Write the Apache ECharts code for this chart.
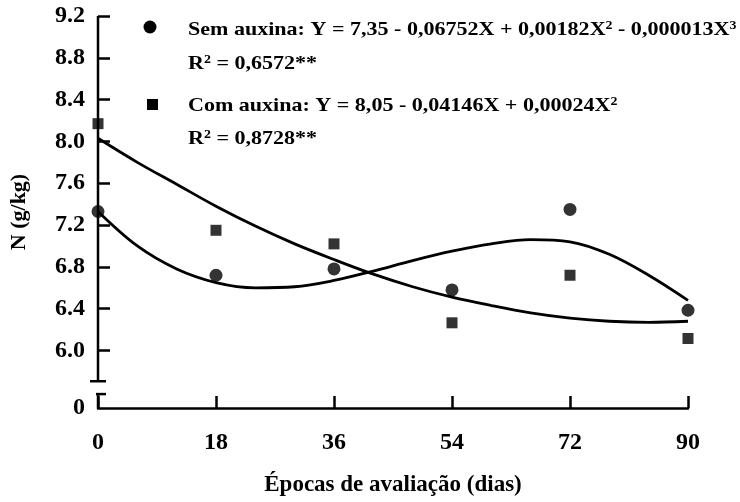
<!DOCTYPE html>
<html>
<head>
<meta charset="utf-8">
<script src="https://cdn.jsdelivr.net/npm/echarts@6/dist/echarts.min.js"></script>
<style>
  html, body { margin: 0; padding: 0; background: #fff; }
  #chart { width: 740px; height: 502px; }
</style>
</head>
<body>
<div id="chart"></div>
<script>
// ---- data ----
const days = [0, 18, 36, 54, 72, 90];
const semAuxina = [7.33, 6.72, 6.78, 6.58, 7.35, 6.385];
const comAuxina = [8.17, 7.15, 7.02, 6.265, 6.72, 6.115];
const curveDays = [0, 6, 12, 18, 24, 30, 36, 42, 48, 54, 60, 66, 72, 78, 84, 90];
const semFit = [7.33, 7.00, 6.78, 6.65, 6.60, 6.61, 6.67, 6.76, 6.86, 6.95, 7.02, 7.06, 7.04, 6.92, 6.72, 6.48];
const comFit = [8.03, 7.80, 7.59, 7.38, 7.19, 7.02, 6.87, 6.73, 6.61, 6.51, 6.43, 6.36, 6.31, 6.28, 6.27, 6.28];
const yTicks = [6.0, 6.4, 6.8, 7.2, 7.6, 8.0, 8.4, 8.8, 9.2];
const yZero = 5.45;              // position of the broken-axis "0"
const yBreakTop = 5.706, yBreakBottom = 5.583;
const legendLines = [
  'Sem auxina: Y = 7,35 - 0,06752X + 0,00182X{s|2} - 0,000013X{s|3}',
  'R{s|2} = 0,6572**',
  'Com auxina: Y = 8,05 - 0,04146X + 0,00024X{s|2}',
  'R{s|2} = 0,8728**'
];

const FONT = '"Liberation Serif", "Times New Roman", serif';
const chart = echarts.init(document.getElementById('chart'), null, { renderer: 'canvas' });

const pairs = (xs, ys) => xs.map((x, i) => [x, ys[i]]);

const option = {
  backgroundColor: '#fff',
  animation: false,
  grid: { left: 95, right: 52, top: 16, bottom: 90 },
  xAxis: {
    type: 'value', min: 0, max: 90, interval: 18,
    axisLine: { show: true, lineStyle: { color: '#000', width: 2.5 } },
    axisTick: { show: true, inside: true, length: 12, lineStyle: { color: '#000', width: 2.5 } },
    axisLabel: { color: '#000', fontFamily: FONT, fontWeight: 'bold', fontSize: 24, margin: 23 },
    splitLine: { show: false },
    name: 'Épocas de avaliação (dias)', nameLocation: 'middle', nameGap: 66,
    nameTextStyle: { color: '#000', fontFamily: FONT, fontWeight: 'bold', fontSize: 23 }
  },
  yAxis: {
    type: 'value', min: yZero, max: 9.2,
    axisLine: { show: false },
    axisTick: { show: true, inside: true, length: 12, customValues: yTicks,
      lineStyle: { color: '#000', width: 2.5 } },
    axisLabel: { color: '#000', fontFamily: FONT, fontWeight: 'bold', fontSize: 24, margin: 13,
      customValues: [yZero].concat(yTicks),
      formatter: v => (v < 5.9 ? '0' : v.toFixed(1)) },
    splitLine: { show: false },
    name: 'N (g/kg)', nameLocation: 'middle', nameGap: 68,
    nameTextStyle: { color: '#000', fontFamily: FONT, fontWeight: 'bold', fontSize: 22 }
  },
  series: [
    { name: 'Sem auxina ajuste', type: 'line', data: pairs(curveDays, semFit), smooth: 0.35,
      showSymbol: false, lineStyle: { color: '#000', width: 2.8 }, z: 2 },
    { name: 'Com auxina ajuste', type: 'line', data: pairs(curveDays, comFit), smooth: 0.35,
      showSymbol: false, lineStyle: { color: '#000', width: 2.8 }, z: 2 },
    { name: 'Sem auxina', type: 'scatter', data: pairs(days, semAuxina), symbol: 'circle',
      symbolSize: 13, itemStyle: { color: '#000' }, z: 3, clip: false },
    { name: 'Com auxina', type: 'scatter', data: pairs(days, comAuxina), symbol: 'rect',
      symbolSize: 11, itemStyle: { color: '#000' }, z: 3, clip: false }
  ]
};
chart.setOption(option);

// broken y-axis line, positioned through the axis scales
const P = v => chart.convertToPixel({ gridIndex: 0 }, [0, v]);
const pTop = P(9.2), pBrk1 = P(yBreakTop), pBrk2 = P(yBreakBottom), pZero = P(yZero);
const ax = pTop[0];
const lineStyle = { stroke: '#000', lineWidth: 2.5 };
const textStyleBase = { fill: '#000', font: 'bold 19px ' + FONT,
  verticalAlign: 'middle', align: 'left',
  rich: { s: { fontSize: 12, fontFamily: FONT, fontWeight: 'bold', verticalAlign: 'top', padding: [0, 0, 9, 0] } } };
const legendY = [30, 64, 106, 139];

chart.setOption({
  graphic: [
    { type: 'line', shape: { x1: ax, y1: pTop[1], x2: ax, y2: pBrk1[1] }, style: lineStyle, z: 10 },
    { type: 'line', shape: { x1: ax - 8, y1: pBrk1[1], x2: ax + 8, y2: pBrk1[1] }, style: lineStyle, z: 10 },
    { type: 'line', shape: { x1: ax, y1: pBrk2[1], x2: ax, y2: pZero[1] }, style: lineStyle, z: 10 },
    { type: 'line', shape: { x1: ax - 2, y1: pBrk2[1], x2: ax + 8, y2: pBrk2[1] }, style: lineStyle, z: 10 },
    { type: 'circle', shape: { cx: 150, cy: 27, r: 6.5 }, style: { fill: '#000' }, z: 10 },
    { type: 'rect', shape: { x: 147, y: 99, width: 11, height: 11 }, style: { fill: '#000' }, z: 10 }
  ].concat(legendLines.map((t, i) => ({
    type: 'text', x: 188, y: legendY[i], scaleX: 1.16, z: 10,
    style: Object.assign({}, textStyleBase, { text: t, x: 0, y: 0 })
  })))
});
</script>
</body>
</html>
